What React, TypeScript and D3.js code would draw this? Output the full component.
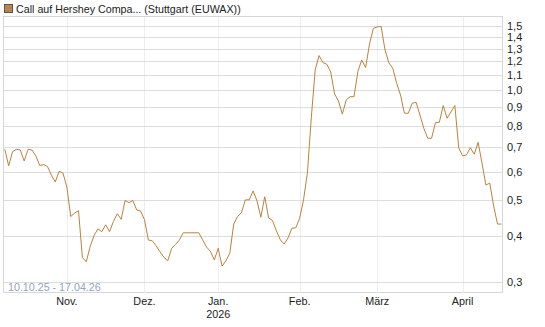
import React from "react";
import * as d3 from "d3";

// one value per trading day, 10.10.25 - 17.04.26
const values = [
  0.690, 0.622, 0.680, 0.690, 0.687, 0.641, 0.690, 0.687, 0.662, 0.623,
  0.627, 0.619, 0.587, 0.562, 0.601, 0.594, 0.544, 0.452, 0.462, 0.469,
  0.349, 0.340, 0.374, 0.401, 0.418, 0.411, 0.429, 0.411, 0.438, 0.460,
  0.444, 0.500, 0.493, 0.500, 0.471, 0.468, 0.443, 0.390, 0.388, 0.376,
  0.362, 0.350, 0.342, 0.370, 0.379, 0.390, 0.408, 0.408, 0.408, 0.408,
  0.408, 0.390, 0.373, 0.363, 0.344, 0.370, 0.331, 0.342, 0.359, 0.431,
  0.452, 0.463, 0.502, 0.502, 0.531, 0.499, 0.450, 0.512, 0.448, 0.441,
  0.413, 0.391, 0.380, 0.395, 0.420, 0.421, 0.447, 0.502, 0.595, 0.841,
  1.137, 1.245, 1.191, 1.179, 1.123, 0.978, 0.936, 0.861, 0.941, 0.961,
  0.961, 1.125, 1.211, 1.154, 1.338, 1.478, 1.491, 1.495, 1.290, 1.189,
  1.150, 1.046, 0.971, 0.866, 0.866, 0.922, 0.928, 0.857, 0.788, 0.740,
  0.740, 0.816, 0.818, 0.909, 0.839, 0.873, 0.909, 0.696, 0.662, 0.666,
  0.697, 0.669, 0.721, 0.633, 0.551, 0.558, 0.483, 0.431, 0.431,
];

// index of first trading day of each month
const monthIdx = [16, 36, 55, 76, 96, 118];
const monthLabels = ["Nov.", "Dez.", "Jan.", "Feb.", "März", "April"];
const yearLabels = ["", "", "2026", "", "", ""];

const yTicks = [0.3, 0.4, 0.5, 0.6, 0.7, 0.8, 0.9, 1.0, 1.1, 1.2, 1.3, 1.4, 1.5];

const title = "Call auf Hershey Compa... (Stuttgart (EUWAX))";
const rangeLabel = "10.10.25 - 17.04.26";

const App = () => {
  const width = 545;
  const height = 327;
  const plot = { left: 3, right: 503, top: 16, bottom: 293 };
  const lineColor = "#b8843c";
  const font = "'Liberation Sans', Arial, sans-serif";

  const x = d3.scaleLinear().domain([0, values.length - 1]).range([4.8, 501.4]);
  const y = d3.scaleLog().domain([0.2793, 1.597]).range([plot.bottom, plot.top]);

  const line = d3.line<number>()
    .x((d, i) => x(i))
    .y(d => y(d));

  const fmt = (v: number) => v.toFixed(1).replace(".", ",");

  return (
    <svg width={width} height={height}
      style={{ position: "absolute", left: 0, top: 0, fontFamily: font }}>
      <rect x={0} y={0} width={width} height={height} fill="#fff" />
      {/* legend */}
      <rect x={4.5} y={4.5} width={8} height={8} fill="#b8864a" stroke="#555" strokeWidth={1} />
      <text x={16} y={12.5} fontSize={10.7} fill="#222">{title}</text>

      {/* plot frame */}
      <rect x={plot.left + 0.5} y={plot.top + 0.5}
        width={plot.right - plot.left - 1} height={plot.bottom - plot.top - 1}
        fill="#fff" stroke="#d6d6d6" />

      {/* vertical grid */}
      {monthIdx.map((m, i) => (
        <line key={"v" + i} x1={Math.round(x(m)) + 0.5} x2={Math.round(x(m)) + 0.5}
          y1={plot.top + 1} y2={plot.bottom} stroke="#eeeeee" />
      ))}

      {/* horizontal grid */}
      {yTicks.map((t, i) => (
        <line key={"h" + i} x1={plot.left + 1} x2={plot.right - 1}
          y1={Math.round(y(t)) + 0.5} y2={Math.round(y(t)) + 0.5} stroke="#dcdcdc" />
      ))}

      {/* y labels */}
      {yTicks.map((t, i) => (
        <text key={"yl" + i} x={507} y={y(t) + 4} fontSize={11} fill="#222">{fmt(t)}</text>
      ))}

      {/* x labels */}
      {monthIdx.map((m, i) => (
        <g key={"xl" + i}>
          <text x={x(m)} y={305} fontSize={10.8} fill="#222" textAnchor="middle">{monthLabels[i]}</text>
          {yearLabels[i] && (
            <text x={x(m)} y={318} fontSize={10.8} fill="#222" textAnchor="middle">{yearLabels[i]}</text>
          )}
        </g>
      ))}

      <text x={8} y={291} fontSize={10.7} fill="#93a3bb">{rangeLabel}</text>

      <path d={line(values) || ""} fill="none" stroke={lineColor} strokeWidth={1} />
    </svg>
  );
};

export default App;
